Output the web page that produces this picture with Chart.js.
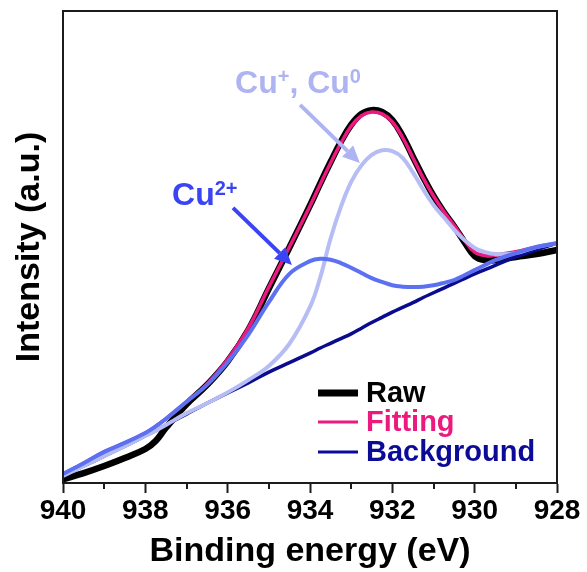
<!DOCTYPE html>
<html>
<head>
<meta charset="utf-8">
<script src="https://cdn.jsdelivr.net/npm/chart.js@4"></script>
<style>
  html, body { margin: 0; padding: 0; background: #fff; }
  #wrap { width: 587px; height: 572px; }
</style>
</head>
<body>
<div id="wrap"><canvas id="chart" width="587" height="572"></canvas></div>
<script>
// Cu 2p XPS fit — raw spectrum, envelope, background and the two Cu components.

const FONT = "'Liberation Sans', Arial, sans-serif";
const INK = '#1c1c1c';

// --- Data -------------------------------------------------------------------

const energies = [
  940, 939.5, 939, 938.5, 938, 937.75, 937.5, 937, 936.5, 936, 935.5, 935, 934.5, 934,
  933.75, 933.5, 933.25, 933, 932.75, 932.5, 932.25, 932, 931.75, 931.5, 931.25, 931,
  930.75, 930.5, 930.25, 930, 929.75, 929.5, 929, 928.5, 928
];
const raw = [
  0.8, 2.1, 3.6, 5.3, 7.2, 8.9, 11.7, 16.7, 20.8, 25.8, 32.4, 41.2, 49.9, 58.8,
  63.5, 68.0, 72.3, 75.9, 78.2, 79.0, 78.6, 76.9, 73.5, 69.1, 64.8, 60.8,
  57.4, 54.4, 51.1, 48.1, 47.2, 47.2, 47.9, 48.5, 49.4
];
const fitting = [
  1.9, 4.2, 6.6, 8.5, 10.6, 12.0, 13.6, 17.2, 21.0, 26.2, 32.8, 41.5, 50.0, 58.7,
  63.3, 67.8, 72.0, 75.6, 77.8, 78.6, 78.2, 76.5, 73.2, 68.9, 64.6, 60.8,
  57.5, 54.6, 51.5, 48.9, 48.2, 48.3, 49.0, 50.0, 50.8
];
const background = [
  1.5, 3.6, 5.7, 7.8, 10.0, 11.1, 12.3, 14.6, 16.9, 19.1, 21.2, 23.5, 25.5, 27.5,
  28.6, 29.6, 30.6, 31.6, 32.8, 34.0, 35.1, 36.2, 37.2, 38.2, 39.3, 40.3,
  41.3, 42.3, 43.3, 44.3, 45.2, 46.1, 47.9, 49.4, 50.8
];
const cu2plus = [
  1.9, 4.2, 6.6, 8.5, 10.6, 12.0, 13.6, 17.2, 20.8, 25.6, 31.4, 38.3, 44.3, 47.0,
  47.5, 47.3, 46.6, 45.6, 44.5, 43.4, 42.6, 41.9, 41.6, 41.5, 41.6, 41.9,
  42.4, 43.0, 44.0, 45.1, 46.2, 47.2, 48.7, 50.0, 50.8
];
const cu1plus = [
  1.5, 3.6, 5.7, 7.8, 10.0, 11.1, 12.3, 14.8, 16.9, 19.2, 21.8, 24.8, 29.5, 37.3,
  43.6, 51.8, 58.5, 63.8, 67.3, 69.5, 70.5, 70.3, 68.9, 65.8, 62.2, 58.9,
  56.3, 53.7, 51.5, 49.8, 48.9, 48.5, 48.7, 50.0, 50.8
];

const majorTicks = [940, 938, 936, 934, 932, 930, 928];
const minorTicks = [939, 937, 935, 933, 931, 929];

const legendLabels = ['Raw', 'Fitting', 'Background'];
const legendColors = ['#000000', '#ec1a7e', '#0b0b98'];
const legendWidths = [7, 3, 3];

// annotation anchors, in (energy, intensity)
const cu2Label = [937.35, 58.9];
const cu2Arrow = [[935.87, 58.3], [934.44, 46.2]];
const cu1Label = [935.82, 82.6];
const cu1Arrow = [[934.24, 80.1], [932.79, 67.8]];

// --- Helpers ----------------------------------------------------------------

const toPoints = values => energies.map((e, i) => ({ x: e, y: values[i] }));

function line(label, values, color, width, order) {
  return {
    label,
    data: toPoints(values),
    borderColor: color,
    backgroundColor: color,
    borderWidth: width,
    pointRadius: 0,
    tension: 0.4,
    borderCapStyle: 'round',
    borderJoinStyle: 'round',
    order,
  };
}

function drawArrow(ctx, x1, y1, x2, y2, color) {
  const ang = Math.atan2(y2 - y1, x2 - x1);
  const head = 17, half = 8;
  const bx = x2 - head * Math.cos(ang);
  const by = y2 - head * Math.sin(ang);
  ctx.strokeStyle = color;
  ctx.fillStyle = color;
  ctx.lineWidth = 4;
  ctx.beginPath();
  ctx.moveTo(x1, y1);
  ctx.lineTo(bx, by);
  ctx.stroke();
  ctx.beginPath();
  ctx.moveTo(x2, y2);
  ctx.lineTo(bx + half * Math.sin(ang), by - half * Math.cos(ang));
  ctx.lineTo(bx - half * Math.sin(ang), by + half * Math.cos(ang));
  ctx.closePath();
  ctx.fill();
}

// parts: [text, isSuperscript]
function drawLabel(ctx, parts, x, y, color) {
  ctx.fillStyle = color;
  ctx.textBaseline = 'alphabetic';
  ctx.textAlign = 'left';
  let cx = x;
  for (const [txt, sup] of parts) {
    ctx.font = sup ? `bold 20px ${FONT}` : `bold 32px ${FONT}`;
    ctx.fillText(txt, cx, sup ? y - 10 : y);
    cx += ctx.measureText(txt).width;
  }
}

// --- Plugin: frame, minor ticks, notes, legend ------------------------------

const extras = {
  id: 'extras',
  afterDraw(chart) {
    const { ctx, chartArea: a, scales: { x, y } } = chart;
    ctx.save();

    // top/right frame
    ctx.strokeStyle = INK;
    ctx.lineWidth = 2;
    ctx.strokeRect(a.left, a.top, a.right - a.left, a.bottom - a.top);

    // minor ticks
    ctx.beginPath();
    for (const v of minorTicks) {
      const px = Math.round(x.getPixelForValue(v));
      ctx.moveTo(px, a.bottom);
      ctx.lineTo(px, a.bottom + 6);
    }
    ctx.stroke();

    // annotations
    const cu2Col = '#3a44f2';
    const cu1Col = '#aeb3f1';
    drawArrow(ctx,
      x.getPixelForValue(cu2Arrow[0][0]), y.getPixelForValue(cu2Arrow[0][1]),
      x.getPixelForValue(cu2Arrow[1][0]), y.getPixelForValue(cu2Arrow[1][1]), cu2Col);
    drawLabel(ctx, [['Cu', false], ['2+', true]],
      x.getPixelForValue(cu2Label[0]), y.getPixelForValue(cu2Label[1]), cu2Col);
    drawArrow(ctx,
      x.getPixelForValue(cu1Arrow[0][0]), y.getPixelForValue(cu1Arrow[0][1]),
      x.getPixelForValue(cu1Arrow[1][0]), y.getPixelForValue(cu1Arrow[1][1]), cu1Col);
    drawLabel(ctx, [['Cu', false], ['+', true], [', Cu', false], ['0', true]],
      x.getPixelForValue(cu1Label[0]), y.getPixelForValue(cu1Label[1]), cu1Col);

    // legend inside the plot, lower right
    const lx = a.left + 255;
    const rows = [a.bottom - 90, a.bottom - 61, a.bottom - 31];
    ctx.font = `bold 29px ${FONT}`;
    ctx.textBaseline = 'middle';
    legendLabels.forEach((lab, i) => {
      ctx.strokeStyle = legendColors[i];
      ctx.lineWidth = legendWidths[i];
      ctx.lineCap = 'butt';
      ctx.beginPath();
      ctx.moveTo(lx, rows[i]);
      ctx.lineTo(lx + 40, rows[i]);
      ctx.stroke();
      ctx.fillStyle = legendColors[i];
      ctx.fillText(lab, lx + 48, rows[i] + 1);
    });

    ctx.restore();
  },
};

// --- Chart ------------------------------------------------------------------

new Chart(document.getElementById('chart'), {
  type: 'line',
  data: {
    datasets: [
      line('Raw', raw, '#000000', 6.5, 5),
      line('Fitting', fitting, '#ec1a7e', 3.5, 4),
      line('Background', background, '#0b0b8e', 3.5, 3),
      line('Cu+, Cu0', cu1plus, '#b6bdf4', 4, 2),
      line('Cu2+', cu2plus, '#5c70f2', 4, 1),
    ],
  },
  options: {
    responsive: false,
    animation: false,
    layout: { padding: { top: 11, right: 30, bottom: 0, left: 0 } },
    plugins: {
      legend: { display: false },
      tooltip: { enabled: false },
    },
    scales: {
      x: {
        type: 'linear',
        reverse: true,
        min: 928,
        max: 940,
        afterFit: s => { s.height = 89; },
        afterBuildTicks: s => { s.ticks = majorTicks.map(v => ({ value: v })); },
        grid: { drawOnChartArea: false, drawTicks: true, tickLength: 10, tickWidth: 2, tickColor: INK },
        border: { display: true, width: 2, color: INK },
        ticks: {
          color: '#000',
          padding: 1,
          font: { family: FONT, size: 28, weight: 'bold' },
          maxRotation: 0,
        },
        title: {
          display: true,
          text: 'Binding energy (eV)',
          color: '#000',
          font: { family: FONT, size: 34, weight: 'bold' },
          padding: { top: 2, bottom: 0 },
        },
      },
      y: {
        min: 0,
        max: 100,
        afterFit: s => { s.width = 63; },
        grid: { drawOnChartArea: false, drawTicks: false },
        border: { display: true, width: 2, color: INK },
        ticks: { display: false },
        title: {
          display: true,
          text: 'Intensity (a.u.)',
          color: '#000',
          font: { family: FONT, size: 34, weight: 'bold' },
          padding: { top: 9, bottom: 0 },
        },
      },
    },
  },
  plugins: [extras],
});
</script>
</body>
</html>
